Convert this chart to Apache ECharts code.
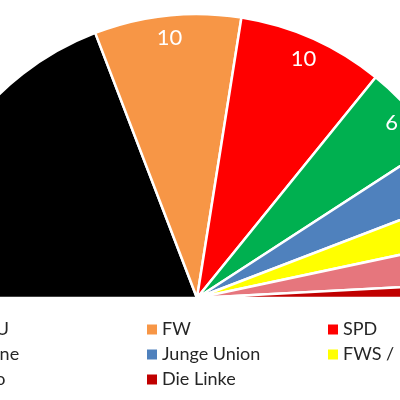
<!DOCTYPE html>
<html>
<head>
<meta charset="utf-8">
<script src="https://cdn.jsdelivr.net/npm/echarts@6/dist/echarts.min.js"></script>
<style>
  html, body { margin: 0; padding: 0; background: #fff; }
  #box { width: 400px; height: 400px; }
</style>
</head>
<body>
<div id="box"></div>
<script>
// seats per party (half circle = total seats)
const parties = ['CDU', 'FW', 'SPD', 'Grüne', 'Junge Union', 'FWS / FDP', 'Juso', 'Die Linke'];
const seats = [23, 10, 10, 6, 4, 3, 3, 1];
const colors = ['#000000', '#F79646', '#FF0000', '#00B050', '#4F81BD', '#FFFF00', '#E6767D', '#C00000'];

// legend columns (Excel style grid, filled row by row)
const legendCols = [
  ['CDU', 'Grüne', 'Juso'],
  ['FW', 'Junge Union', 'Die Linke'],
  ['SPD', 'FWS / FDP']
];
const legendLeft = [-50, 142, 323];

const total = seats.reduce((a, b) => a + b, 0);

let pieData = parties.map((name, i) => ({
  name: name,
  value: seats[i],
  itemStyle: { color: colors[i] }
}));
// invisible lower half
pieData.push({
  name: '_hidden',
  value: total,
  itemStyle: { color: 'rgba(0,0,0,0)', borderWidth: 0 },
  label: { show: false },
  tooltip: { show: false }
});

let labelData = pieData.map((d) => ({
  name: d.name,
  value: d.value,
  label: { show: d.name !== '_hidden' }
}));

const center = [197, 298];

let chart = echarts.init(document.getElementById('box'));

let option = {
  animation: false,
  legend: legendCols.map((col, i) => ({
    orient: 'vertical',
    left: legendLeft[i],
    top: 315,
    data: col,
    icon: 'rect',
    itemWidth: 10,
    itemHeight: 10,
    itemGap: 6,
    itemStyle: { borderWidth: 0 },
    selectedMode: false,
    textStyle: {
      fontFamily: 'Lato',
      fontSize: 18,
      lineHeight: 19,
      color: '#262626'
    }
  })),
  series: [
    {
      type: 'pie',
      center: center,
      radius: [0, 284],
      startAngle: 180,
      clockwise: true,
      avoidLabelOverlap: false,
      emphasis: { scale: false },
      itemStyle: { borderColor: '#fff', borderWidth: 2.5 },
      label: { show: false },
      labelLine: { show: false },
      data: pieData
    },
    {
      // second ring only to place the value labels near the rim
      type: 'pie',
      center: center,
      radius: [234, 284],
      startAngle: 180,
      clockwise: true,
      silent: true,
      avoidLabelOverlap: false,
      itemStyle: { color: 'rgba(0,0,0,0)', borderWidth: 0 },
      label: {
        show: true,
        position: 'inside',
        formatter: '{c}',
        color: '#fff',
        fontFamily: 'Lato',
        fontSize: 22
      },
      labelLine: { show: false },
      data: labelData
    }
  ]
};

chart.setOption(option);
</script>
</body>
</html>
